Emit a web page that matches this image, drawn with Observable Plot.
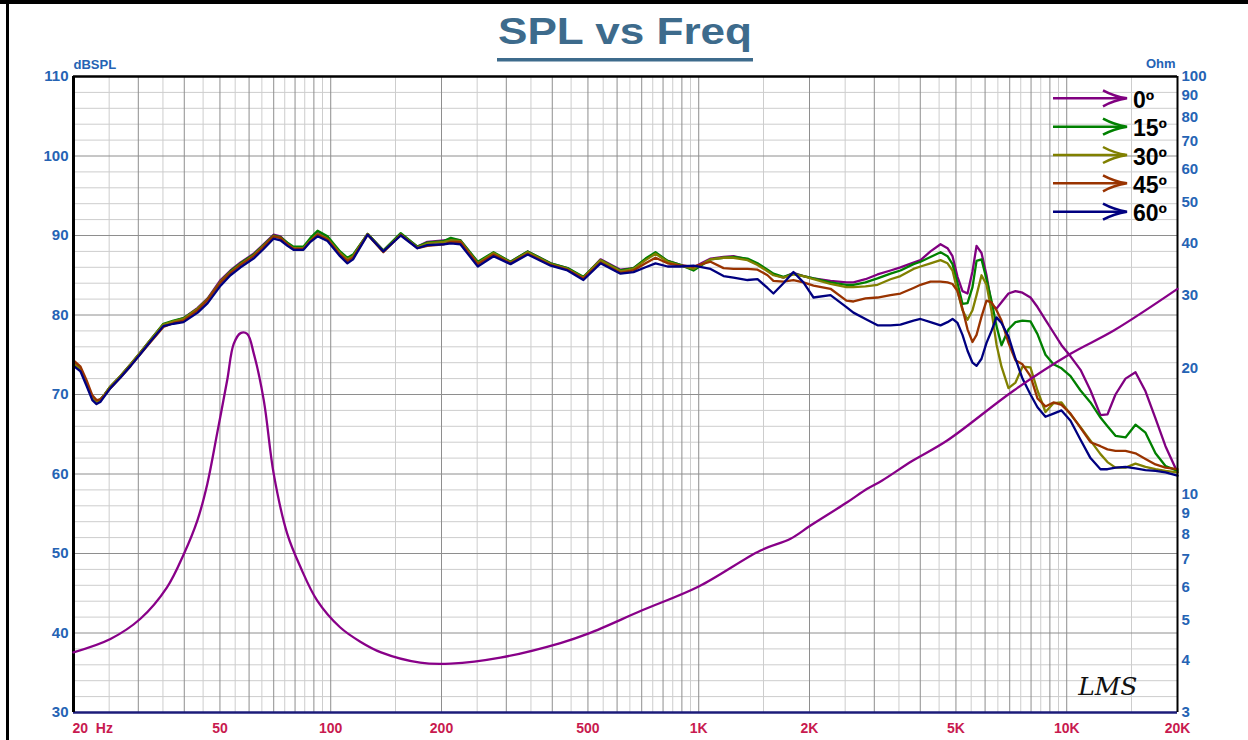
<!DOCTYPE html>
<html><head><meta charset="utf-8">
<script src="https://cdn.jsdelivr.net/npm/d3@7"></script>
<script src="https://cdn.jsdelivr.net/npm/@observablehq/plot@0.6"></script>
<style>
html,body{margin:0;padding:0;background:#fff;}
#wrap{position:relative;width:1248px;height:740px;overflow:hidden;font-family:"Liberation Sans",Arial,sans-serif;}
#wrap > svg{position:absolute;left:0;top:0;}
.bar-top{position:absolute;left:0;top:0;width:1248px;height:4px;background:#000;}
.bar-left{position:absolute;left:6px;top:0;width:3px;height:740px;background:#000;}
</style></head>
<body><div id="wrap"><div class="bar-top"></div><div class="bar-left"></div></div>
<script>
// ---------- data ----------
const angles = ["0º","15º","30º","45º","60º"];
const colors = ["#800080","#008000","#808000","#993300","#000080"];

const freqs = [20,20.9,21.7,22.5,23.1,23.7,24.3,25.2,26.8,28.6,
30.4,32.4,35.1,37.4,39.8,43.5,46.3,50.2,53.4,56.9,
61.7,65.7,69.9,73,76.3,79.2,84.3,88.1,92.1,98,
106,111,115,126,139,155,172,183,203,212,225,
251,277,308,343,396,440,486,541,613,665,717,763,823,892,968,
1077,1168,1243,1357,1445,1538,1596,1699,1809,1925,2051,2281,
2520,2633,2839,3061,3320,3534,3834,4006,4264,4540,4743,4894,
5049,5209,5376,5546,5688,5868,6054,6246,6444,6649,
6946,7257,7582,7971,8328,8755,9205,9679,10240,10902,
11604,12351,12906,13568,14446,15376,16371,17425,18551,20000];

const spl0 = [74.0,73.2,71.4,69.6,69.1,69.4,70.0,71.0,72.3,73.8,
75.3,76.9,78.8,79.2,79.6,80.9,82.1,84.4,85.6,86.6,
87.7,88.9,90.1,89.9,89.0,88.4,88.4,89.5,90.3,89.7,
87.9,87.1,87.5,90.2,88.1,90.2,88.6,89.2,89.4,89.5,89.4,
86.6,87.8,86.7,88.0,86.5,85.9,84.7,87.0,85.7,85.9,87.0,87.8,86.8,86.3,86.0,
87.1,87.3,87.4,87.0,86.4,85.6,85.1,84.7,85.3,84.9,84.6,84.3,
84.1,84.1,84.5,85.1,85.6,86.0,86.6,86.9,88.0,88.9,88.4,87.4,
84.8,83.0,82.7,85.5,88.7,87.8,85.0,81.3,80.8,81.6,
82.7,83.0,82.8,82.2,81.0,79.4,77.8,76.2,74.8,73.1,
70.5,67.4,67.5,70.0,72.0,72.8,70.4,67.0,63.5,60.2];

const spl15 = [73.8,73.2,71.4,69.6,69.2,69.4,70.0,71.0,72.3,73.8,
75.3,76.9,78.9,79.3,79.6,80.8,82.0,84.2,85.5,86.5,
87.6,88.8,90.0,89.8,89.1,88.6,88.6,89.7,90.6,89.9,
88.0,87.2,87.6,90.2,88.1,90.3,88.6,89.1,89.3,89.7,89.4,
86.7,87.9,86.7,88.0,86.5,85.9,84.8,86.9,85.6,85.9,87.1,87.9,86.8,86.3,85.6,
87.0,87.2,87.3,87.1,86.5,85.7,85.2,84.8,85.2,84.9,84.6,84.1,
83.8,83.8,84.1,84.6,85.2,85.6,86.4,86.7,87.3,87.9,87.4,86.4,
84.0,81.4,81.5,83.5,86.8,87.0,84.5,81.8,78.6,76.2,
78.2,79.1,79.3,79.2,77.6,75.0,73.8,73.3,72.3,70.5,
69.0,67.1,66.0,64.8,64.6,66.2,65.2,62.6,61.0,60.4];

const spl30 = [73.9,73.2,71.4,69.6,69.1,69.4,70.0,71.0,72.3,73.8,
75.3,76.9,78.8,79.2,79.5,80.8,82.0,84.2,85.4,86.4,
87.5,88.7,89.9,89.7,88.9,88.4,88.4,89.4,90.2,89.6,
87.8,87.0,87.4,90.2,88.0,90.1,88.5,89.0,89.2,89.4,89.3,
86.5,87.8,86.6,87.9,86.4,85.8,84.7,86.9,85.5,85.8,86.9,87.7,86.7,86.2,85.8,
87.0,87.2,87.2,86.9,86.3,85.5,85.0,84.7,85.1,84.9,84.5,83.9,
83.5,83.5,83.6,83.8,84.5,84.9,85.8,86.1,86.5,86.9,86.5,85.6,
83.0,80.6,79.4,80.6,82.5,85.0,83.8,80.5,76.3,73.5,
70.8,71.5,73.5,73.4,70.5,67.8,68.9,69.0,67.5,65.9,
64.2,62.5,61.5,60.8,60.8,61.3,60.9,60.6,60.4,60.2];

const spl45 = [74.3,73.5,71.8,69.9,69.3,69.4,69.9,70.8,72.1,73.6,
75.1,76.6,78.5,79.0,79.3,80.6,81.9,84.1,85.3,86.3,
87.4,88.6,89.9,89.7,88.9,88.3,88.3,89.3,90.1,89.5,
87.6,86.8,87.2,90.1,87.9,90.1,88.4,88.7,88.9,89.2,89.2,
86.4,87.6,86.5,87.7,86.3,85.7,84.6,86.6,85.3,85.6,86.5,87.2,86.5,86.2,86.1,
86.7,85.9,85.8,85.8,85.7,85.0,84.3,84.2,84.4,84.1,83.7,83.3,
81.8,81.7,82.1,82.2,82.5,82.7,83.4,83.8,84.2,84.2,84.1,83.9,
83.0,80.8,78.2,76.6,77.5,79.8,81.8,81.6,80.6,79.3,
76.5,74.3,73.8,72.3,69.5,68.5,69.0,68.7,67.6,65.8,
64.0,63.5,63.1,62.9,62.9,62.6,61.9,61.2,60.8,60.6];

const spl60 = [73.6,72.9,71.1,69.3,68.8,69.1,69.8,70.8,72.1,73.6,
75.1,76.7,78.6,78.9,79.1,80.3,81.5,83.7,85.0,86.0,
87.1,88.3,89.6,89.4,88.7,88.2,88.2,89.2,89.9,89.3,
87.4,86.5,87.0,90.1,88.0,90.0,88.4,88.8,88.9,89.0,88.9,
86.1,87.4,86.4,87.6,86.2,85.6,84.4,86.5,85.2,85.4,86.0,86.5,86.1,86.1,86.2,
85.8,84.9,84.7,84.4,84.5,83.4,82.7,84.0,85.4,84.1,82.2,82.5,
81.0,80.3,79.5,78.7,78.7,78.8,79.3,79.5,79.1,78.7,79.1,79.5,
79.0,77.5,75.5,74.0,73.6,74.5,76.5,78.0,79.7,79.0,
77.3,74.5,72.0,70.0,68.4,67.2,67.6,68.0,66.7,64.3,
62.0,60.6,60.6,60.8,60.9,60.7,60.5,60.4,60.2,59.8];

const zFreq = [20,25.2,30.4,35.9,39.9,43.4,46.2,49.1,52.3,54.5,56.9,59.3,61.8,65.8,70,76.2,82.8,91.9,106,120,137,175,212,289,421,503,702,1000,1472,1776,2013,2532,2870,3152,3800,4734,7182,10240,13424,20000];
const zOhm = [4.18,4.50,5.03,5.98,7.19,8.64,10.58,13.94,18.71,22.9,24.3,24.2,21.7,16.75,11.18,8.03,6.68,5.56,4.80,4.44,4.18,3.95,3.93,4.06,4.40,4.64,5.27,6.01,7.33,7.82,8.41,9.56,10.30,10.78,12.0,13.44,17.71,21.68,24.64,31.0];

const dbTicks = [30,40,50,60,70,80,90,100,110];
const ohmTicks = [100,90,80,70,60,50,40,30,20,10,9,8,7,6,5,4,3];
const xTickVals = [20,50,100,200,500,1000,2000,5000,10000,20000];
const xTickLabels = ["20\u00a0 Hz","50","100","200","500","1K","2K","5K","10K","20K"];

// ---------- build ----------
const W = 1248, H = 740;
const M = {marginLeft: 73, marginRight: 71, marginTop: 76, marginBottom: 28};
const FONT = "Liberation Sans, Arial, sans-serif";
const BLUE = "#2563b4", CRIMSON = "#c81a4f";

const splSeries = [spl0, spl15, spl30, spl45, spl60];
const splRows = splSeries.flatMap((s, k) => s.map((v, i) => ({f: freqs[i], db: v, angle: angles[k]})));
const zRows = zFreq.map((f, i) => ({f, ohm: zOhm[i]}));

const gridDark = [], gridLight = [];
for (const d of [10, 100, 1000, 10000]) for (let m = 1; m <= 9; m++) {
  const v = m * d, h = (m + 0.5) * d;
  if (v > 20 && v < 20000) gridDark.push(v);
  if (h > 20 && h < 20000) gridLight.push(h);
}
const hLight = d3.range(32, 110, 2).filter(v => v % 10 !== 0);
const hDark = d3.range(40, 110, 10);

const txt = {fontFamily: FONT, fontWeight: "bold"};

const p1 = Plot.plot({
  width: W, height: H, ...M,
  x: {type: "log", domain: [20, 20000], axis: null},
  y: {domain: [30, 110], axis: null},
  color: {domain: angles, range: colors},
  style: {background: "transparent", fontFamily: FONT, overflow: "visible"},
  marks: [
    Plot.ruleX(gridLight, {stroke: "#cdcdcd", strokeWidth: 1}),
    Plot.ruleY(hLight, {stroke: "#cdcdcd", strokeWidth: 1}),
    Plot.ruleX(gridDark, {stroke: "#8e8e8e", strokeWidth: 1}),
    Plot.ruleY(hDark, {stroke: "#8e8e8e", strokeWidth: 1}),
    Plot.line(splRows, {x: "f", y: "db", z: "angle", stroke: "angle", strokeWidth: 2.3}),
    Plot.ruleY([110], {stroke: "#000", strokeWidth: 2.5}),
    Plot.ruleY([30], {stroke: "#1c1c7a", strokeWidth: 2.5}),
    Plot.ruleX([20], {stroke: "#000", strokeWidth: 3}),
    Plot.ruleX([20000], {stroke: "#000", strokeWidth: 2}),
    Plot.axisY(dbTicks, {tickSize: 0, tickPadding: 5, fontSize: 15, ...txt, fill: BLUE, label: null}),
    Plot.text(xTickVals.slice(0, 1), {x: d => d, text: (d, i) => xTickLabels[i], frameAnchor: "bottom", lineAnchor: "middle", dy: 16, dx: -1, textAnchor: "start", fontSize: 14, ...txt, fill: CRIMSON}),
    Plot.text(xTickVals.slice(1), {x: d => d, text: (d, i) => xTickLabels[i + 1], frameAnchor: "bottom", lineAnchor: "middle", dy: 16, fontSize: 14, ...txt, fill: CRIMSON}),
    Plot.text(["dBSPL"], {text: d => d, frameAnchor: "top-left", lineAnchor: "middle", textAnchor: "start", dy: -12, fontSize: 13, ...txt, fill: BLUE}),
    Plot.text(["LMS"], {text: d => d, frameAnchor: "bottom-right", lineAnchor: "middle", dx: -40, dy: -26, fontSize: 25, fontStyle: "italic", fontFamily: "DejaVu Serif", fill: "#111"})
  ]
});

const p2 = Plot.plot({
  width: W, height: H, ...M,
  x: {type: "log", domain: [20, 20000], axis: null},
  y: {type: "log", domain: [3, 100], axis: null},
  style: {background: "transparent", fontFamily: FONT, overflow: "visible"},
  marks: [
    Plot.line(zRows, {x: "f", y: "ohm", stroke: "#880088", strokeWidth: 2.3, curve: "catmull-rom"}),
    Plot.axisY(ohmTicks, {anchor: "right", tickSize: 0, tickPadding: 4, tickFormat: d => String(d), fontSize: 15, ...txt, fill: BLUE, label: null}),
    Plot.text(["Ohm"], {text: d => d, frameAnchor: "top-right", lineAnchor: "middle", textAnchor: "end", dx: -2, dy: -13, fontSize: 13, ...txt, fill: BLUE})
  ]
});

const wrap = document.getElementById("wrap");
wrap.appendChild(p1);
wrap.appendChild(p2);

// title and legend overlay
const ov = d3.select(wrap).append("svg").attr("width", W).attr("height", H)
  .style("position", "absolute").style("left", 0).style("top", 0).style("font-family", FONT);

ov.append("text").attr("x", 498).attr("y", 44)
  .attr("textLength", 254).attr("lengthAdjust", "spacingAndGlyphs")
  .attr("font-size", 36).attr("font-weight", "bold").attr("fill", "#3d6b8c")
  .text("SPL vs Freq");
ov.append("rect").attr("x", 497).attr("y", 58).attr("width", 256).attr("height", 3.5).attr("fill", "#3d6b8c");

const lg = ov.selectAll("g.lg").data(angles).join("g").attr("class", "lg")
  .attr("transform", (d, i) => `translate(0,${98.3 + i * 28.35})`);
lg.append("line").attr("x1", 1053).attr("x2", 1125).attr("y1", 0).attr("y2", 0)
  .attr("stroke", (d, i) => colors[i]).attr("stroke-width", 2.5);
lg.append("path").attr("d", "M1103,-8 Q1114,-2 1127,0 Q1114,2 1103,8")
  .attr("fill", "none").attr("stroke", (d, i) => colors[i]).attr("stroke-width", 2.5)
  .attr("stroke-linejoin", "miter");
lg.append("text").attr("x", 1133).attr("y", 9.5).attr("font-size", 23).attr("font-weight", "bold")
  .attr("fill", "#000").text(d => d);
</script>
</body></html>
